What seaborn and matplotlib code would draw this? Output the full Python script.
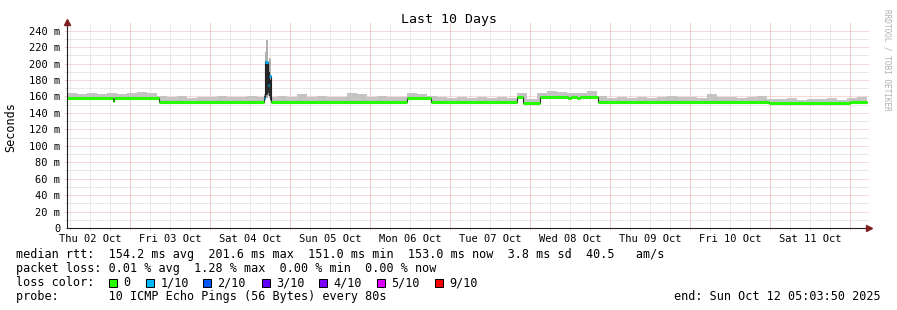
import numpy as np
import pandas as pd
import matplotlib
matplotlib.use('Agg')
import matplotlib.pyplot as plt
import matplotlib.dates as mdates
from matplotlib.ticker import FixedLocator
from matplotlib.patches import Rectangle
import seaborn as sns

# ---------------- data ----------------
start = pd.Timestamp('2025-10-02 05:03:50')
end = pd.Timestamp('2025-10-12 05:03:50')
title = 'Last 10 Days'
y_label = 'Seconds'

# median rtt step segments: start (hours after start), median (ms), lost pings (of 10)
seg_hours = [0.0, 13.8, 14.1, 27.6, 59.25, 59.55, 60.15, 60.75, 61.35, 102.0, 109.2,
             135.0, 136.95, 141.9, 150.3, 151.2, 153.0, 153.9, 159.3, 210.6, 234.9]
seg_median = [158.5, 155.0, 158.5, 153.2, 157.7, 201.6, 174.0, 185.0, 153.2, 158.4, 153.2,
              159.3, 151.8, 159.2, 158.6, 159.2, 158.4, 159.2, 153.2, 151.5, 153.0]
seg_loss = [0, 0, 0, 0, 1, 1, 1, 1, 0, 0, 0,
            0, 0, 0, 0, 0, 0, 0, 0, 0, 0]

# smoke (max ping) in 3-hour bins
smoke_bin_hours = 3
smoke_top = [164, 163, 164.5, 163, 164, 163.5, 164.5, 165, 164, 161,
             159, 160, 158.5, 159.5, 159, 160, 159, 159.5, 160.5, 159.5,
             159, 160.5, 159.5, 163.5, 159, 160, 159.5, 159, 163.7, 163,
             159.5, 160, 159, 159.5, 164, 163.5, 161, 159, 158.5, 159.5,
             158.5, 159, 158, 159, 158.5, 164, 157, 164, 166, 165,
             164.5, 164, 166.5, 160, 158.5, 159, 158.5, 159.5, 158, 159,
             160.5, 159, 159.5, 158.5, 162.5, 159, 159.5, 158.5, 159, 161,
             157, 156.5, 157.5, 156, 157, 156.5, 157.5, 156, 158.5, 159]

# smoke in the spike on Sat 04 Oct
spike_hours = [59.25, 59.55, 59.85, 60.15, 60.45, 60.75, 61.05, 61.35]
spike_smoke_lo = [152, 156, 158, 160, 160, 158, 154]
spike_smoke_hi = [163, 214, 229, 198, 201, 207, 205]
spike_core_lo = [154, 158, 162, 163, 164, 161, 156]
spike_core_hi = [160, 203, 201, 190, 186, 190, 180]

ytick_vals = [0, 20, 40, 60, 80, 100, 120, 140, 160, 180, 200, 220, 240]
ytick_labels = ['0', '20 m', '40 m', '60 m', '80 m', '100 m', '120 m', '140 m',
                '160 m', '180 m', '200 m', '220 m', '240 m']

loss_labels = ['0', '1/10', '2/10', '3/10', '4/10', '5/10', '9/10']
loss_levels = [0, 1, 2, 3, 4, 5, 9]
loss_colors = ['#26ff00', '#00b8ff', '#0059ff', '#5e00ff', '#7e00ff', '#dd00ff', '#ff0000']

legend_rtt = 'median rtt:  154.2 ms avg  201.6 ms max  151.0 ms min  153.0 ms now  3.8 ms sd  40.5   am/s'
legend_loss = 'packet loss: 0.01 % avg  1.28 % max  0.00 % min  0.00 % now'
legend_color = 'loss color:'
legend_probe = 'probe:       10 ICMP Echo Pings (56 Bytes) every 80s'
legend_end = 'end: Sun Oct 12 05:03:50 2025'
watermark = 'RRDTOOL / TOBI OETIKER'

# ---------------- style ----------------
sns.set_theme(style='white')
plt.rcParams['font.family'] = ['DejaVu Sans Mono', 'DejaVu Sans']
GRID = '#d2d2d2'
MGRID = '#f0b4b4'
AXIS = '#1f1f1f'
ARROW = '#801f1f'
SMOKE = '#c4c4c4'
DOT = (0, (1, 1))

W, H = 897, 310
fig = plt.figure(figsize=(W / 100, H / 100), dpi=100, facecolor='white')
x0, x1 = 67, 869
yb, yt = 228, 22.4
px_per_ms = 197.4 / 240
ax = fig.add_axes([x0 / W, 1 - yb / H, (x1 - x0) / W, (yb - yt) / H])
ax.set_facecolor('white')
span_h = 240 * (x1 - x0) / 800
ax.set_xlim(start, start + pd.Timedelta(hours=span_h))
ax.set_ylim(0, (yb - yt) / px_per_ms)

# ---------------- smoke ----------------
seg_h = np.array(seg_hours)
med = np.array(seg_median)
bin_h = np.arange(len(smoke_top)) * smoke_bin_hours
all_h = np.unique(np.concatenate([bin_h, seg_h, [240.0]]))
idx_m = np.searchsorted(seg_h, all_h, side='right') - 1
idx_s = np.minimum(np.searchsorted(bin_h, all_h, side='right') - 1, len(smoke_top) - 1)
base = med[idx_m]
top = np.maximum(np.array(smoke_top)[idx_s], base)
t_all = start + pd.to_timedelta(all_h, unit='h')
ax.fill_between(t_all, base, top, step='post', color=SMOKE, lw=0, zorder=2)

t_sp = start + pd.to_timedelta(spike_hours, unit='h')
lo = spike_smoke_lo + [spike_smoke_lo[-1]]
hi = spike_smoke_hi + [spike_smoke_hi[-1]]
clo = spike_core_lo + [spike_core_lo[-1]]
chi = spike_core_hi + [spike_core_hi[-1]]
ax.fill_between(t_sp, lo, hi, step='post', color='#b0b0b0', lw=0, zorder=2.1)
ax.fill_between(t_sp, clo, chi, step='post', color='#2a2a2a', lw=0, zorder=2.2)

# ---------------- median line ----------------
seg_t = start + pd.to_timedelta(seg_hours + [240.0], unit='h')
df = pd.DataFrame({'t': seg_t, 'rtt': seg_median + [seg_median[-1]]})
sns.lineplot(data=df, x='t', y='rtt', drawstyle='steps-post', color='#202020',
             lw=0.8, estimator=None, ax=ax, zorder=3)
color_of = dict(zip(loss_levels, loss_colors))
for i in range(len(seg_hours)):
    ax.hlines(seg_median[i], seg_t[i], seg_t[i + 1], color=color_of[seg_loss[i]],
              lw=2.2, zorder=4, capstyle='butt')

# ---------------- grid & axes ----------------
ax.set_yticks(ytick_vals)
ax.set_yticklabels(ytick_labels)
ax.yaxis.set_minor_locator(FixedLocator(np.arange(10, 250, 20)))
ax.grid(which='major', axis='y', color=MGRID, ls=DOT, lw=0.72, zorder=1)
ax.grid(which='minor', axis='y', color=GRID, ls=DOT, lw=0.72, zorder=1)

ax.xaxis.set_major_locator(mdates.HourLocator(byhour=[12]))
ax.xaxis.set_major_formatter(mdates.DateFormatter('%a %d %b'))
ax.xaxis.set_minor_locator(mdates.HourLocator(byhour=[0, 6, 12, 18]))
ax.xaxis.remove_overlapping_locs = False
ax.grid(which='minor', axis='x', color=GRID, ls=DOT, lw=0.72, zorder=1)
ax.grid(which='major', axis='x', visible=False)
for m in pd.date_range('2025-10-03', '2025-10-12', freq='D'):
    ax.axvline(m, color=MGRID, ls=DOT, lw=0.72, zorder=1.1)

ax.tick_params(axis='x', which='major', length=0, pad=4.2, labelsize=7.44, colors='black')
ax.tick_params(axis='x', which='minor', length=1.6, width=0.72, color=GRID, bottom=True)
ax.tick_params(axis='y', which='major', length=1.8, width=0.72, color=MGRID, pad=3.0,
               labelsize=7.44, labelcolor='black', left=True)
ax.tick_params(axis='y', which='minor', length=1.8, width=0.72, color=GRID, left=True)
for s in ['top', 'right']:
    ax.spines[s].set_visible(False)
for s in ['left', 'bottom']:
    ax.spines[s].set_color(AXIS)
    ax.spines[s].set_linewidth(0.8)
    ax.spines[s].set_zorder(5)
ax.set_xlabel('')
ax.set_ylabel('')
ax.plot([1.0], [0.0], marker='>', ms=4, color=ARROW, transform=ax.transAxes, clip_on=False, zorder=6)
ax.plot([0.0], [1.0], marker='^', ms=4, color=ARROW, transform=ax.transAxes, clip_on=False, zorder=6)

# ---------------- texts ----------------
def fx(px):
    return px / W


def fy(py):
    return 1 - py / H


fig.text(fx(448.5), fy(23), title, ha='center', va='baseline', fontsize=9.56, color='black')
fig.text(fx(11), fy(127), y_label, rotation=90, ha='center', va='center', fontsize=8.5, color='black')
fig.text(fx(887), fy(60), watermark, rotation=270, ha='center', va='center', fontsize=5.6, color='#b0b0b0')

LF = 8.5
fig.text(fx(16), fy(258), legend_rtt, ha='left', va='baseline', fontsize=LF, color='black')
fig.text(fx(16), fy(272), legend_loss, ha='left', va='baseline', fontsize=LF, color='black')
fig.text(fx(16), fy(286.5), legend_color, ha='left', va='baseline', fontsize=LF, color='black')
fig.text(fx(16), fy(300), legend_probe, ha='left', va='baseline', fontsize=LF, color='black')
fig.text(fx(880.5), fy(300), legend_end, ha='right', va='baseline', fontsize=LF, color='black')

sq_x = [108.5, 145.7, 203.0, 261.5, 319.0, 376.7, 435.0]
for lab, col, sx in zip(loss_labels, loss_colors, sq_x):
    fig.patches.append(Rectangle((fx(sx), fy(286.5)), 8 / W, 8 / H, transform=fig.transFigure,
                                 facecolor=col, edgecolor='black', lw=0.72, figure=fig))
    fig.text(fx(sx + 14.5), fy(286.5), lab, ha='left', va='baseline', fontsize=LF, color='black')

fig.savefig('out.png', dpi=100, facecolor='white')
